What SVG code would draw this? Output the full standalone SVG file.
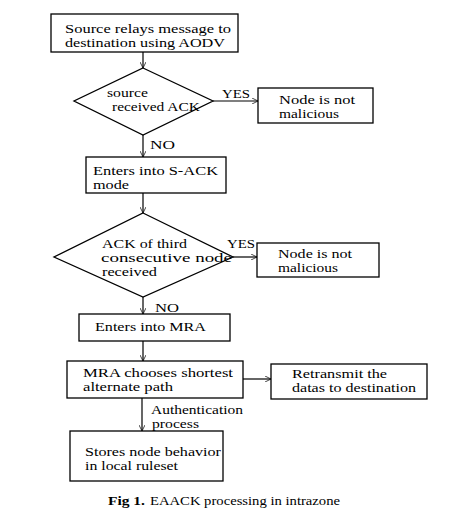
<svg xmlns="http://www.w3.org/2000/svg" width="473" height="523" viewBox="0 0 473 523">
<defs>
<marker id="arr" viewBox="0 0 10 10" refX="10" refY="5" markerWidth="6" markerHeight="6" orient="auto" markerUnits="userSpaceOnUse">
<path d="M0,0 L10,5 L0,10" fill="none" stroke="#000" stroke-width="1.2"/>
</marker>
<style>
.n{fill:#fff;stroke:#000;stroke-width:1.3}
.t{font-family:"Liberation Serif","Times New Roman",serif;font-size:13px;fill:#000}
.c{fill:none;stroke:#000;stroke-width:1.2}
</style>
</defs>
<rect width="473" height="523" fill="#fff"/>
<g id="connectors">
<line class="c" x1="143" y1="52" x2="143" y2="68" marker-end="url(#arr)"/>
<line class="c" x1="213" y1="101" x2="258" y2="101" marker-end="url(#arr)"/>
<line class="c" x1="143" y1="135" x2="143" y2="157" marker-end="url(#arr)"/>
<line class="c" x1="143" y1="193" x2="143" y2="213" marker-end="url(#arr)"/>
<line class="c" x1="233" y1="257" x2="257" y2="257" marker-end="url(#arr)"/>
<line class="c" x1="143" y1="297" x2="143" y2="314" marker-end="url(#arr)"/>
<line class="c" x1="143" y1="341" x2="143" y2="361" marker-end="url(#arr)"/>
<line class="c" x1="243" y1="379" x2="271" y2="379" marker-end="url(#arr)"/>
<line class="c" x1="142" y1="398" x2="142" y2="431" marker-end="url(#arr)"/>
<text class="t" x="222" y="98" textLength="28" lengthAdjust="spacingAndGlyphs">YES</text>
<text class="t" x="150" y="149" textLength="25" lengthAdjust="spacingAndGlyphs">NO</text>
<text class="t" x="227" y="248" textLength="28" lengthAdjust="spacingAndGlyphs">YES</text>
<text class="t" x="155" y="312" textLength="24" lengthAdjust="spacingAndGlyphs">NO</text>
<text class="t" x="151" y="414" textLength="92" lengthAdjust="spacingAndGlyphs">Authentication</text>
<text class="t" x="152" y="428" textLength="47" lengthAdjust="spacingAndGlyphs">process</text>
</g>
<g id="start">
<rect class="n" x="51" y="14" width="187" height="38"/>
<text class="t" x="65" y="33" textLength="166" lengthAdjust="spacingAndGlyphs">Source relays message to</text>
<text class="t" x="65" y="47" textLength="160" lengthAdjust="spacingAndGlyphs">destination using AODV</text>
</g>
<g id="decision1">
<polygon class="n" points="143,68 213,101 143,135 74,101"/>
<text class="t" x="107" y="97" textLength="41" lengthAdjust="spacingAndGlyphs">source</text>
<text class="t" x="112" y="111" textLength="88" lengthAdjust="spacingAndGlyphs">received ACK</text>
</g>
<g id="notmal1">
<rect class="n" x="258" y="88" width="115" height="35"/>
<text class="t" x="279" y="104" textLength="76" lengthAdjust="spacingAndGlyphs">Node is not</text>
<text class="t" x="279" y="118" textLength="60" lengthAdjust="spacingAndGlyphs">malicious</text>
</g>
<g id="sack">
<rect class="n" x="86" y="157" width="140" height="36"/>
<text class="t" x="93" y="175" textLength="125" lengthAdjust="spacingAndGlyphs">Enters into S-ACK</text>
<text class="t" x="93" y="189" textLength="36" lengthAdjust="spacingAndGlyphs">mode</text>
</g>
<g id="decision2">
<polygon class="n" points="143,213 233,257 143,297 54,257"/>
<text class="t" x="102" y="248" textLength="85" lengthAdjust="spacingAndGlyphs">ACK of third</text>
<text class="t" x="101" y="262" textLength="131" lengthAdjust="spacingAndGlyphs">consecutive node</text>
<text class="t" x="102" y="276" textLength="55" lengthAdjust="spacingAndGlyphs">received</text>
</g>
<g id="notmal2">
<rect class="n" x="257" y="243" width="122" height="34"/>
<text class="t" x="278" y="258" textLength="74" lengthAdjust="spacingAndGlyphs">Node is not</text>
<text class="t" x="278" y="272" textLength="60" lengthAdjust="spacingAndGlyphs">malicious</text>
</g>
<g id="mra">
<rect class="n" x="79" y="314" width="151" height="27"/>
<text class="t" x="95" y="331" textLength="111" lengthAdjust="spacingAndGlyphs">Enters into MRA</text>
</g>
<g id="shortest">
<rect class="n" x="67" y="361" width="176" height="37"/>
<text class="t" x="83" y="377" textLength="150" lengthAdjust="spacingAndGlyphs">MRA chooses shortest</text>
<text class="t" x="83" y="391" textLength="90" lengthAdjust="spacingAndGlyphs">alternate path</text>
</g>
<g id="retransmit">
<rect class="n" x="271" y="364" width="156" height="35"/>
<text class="t" x="292" y="378" textLength="95" lengthAdjust="spacingAndGlyphs">Retransmit the</text>
<text class="t" x="292" y="392" textLength="124" lengthAdjust="spacingAndGlyphs">datas to destination</text>
</g>
<g id="stores">
<rect class="n" x="70" y="431" width="153" height="50"/>
<text class="t" x="85" y="456" textLength="136" lengthAdjust="spacingAndGlyphs">Stores node behavior</text>
<text class="t" x="85" y="470" textLength="93" lengthAdjust="spacingAndGlyphs">in local ruleset</text>
</g>
<g id="caption">
<text class="t" x="108" y="505" font-size="14" font-weight="bold" textLength="37" lengthAdjust="spacingAndGlyphs">Fig 1.</text>
<text class="t" x="150" y="505" font-size="14" textLength="190" lengthAdjust="spacingAndGlyphs">EAACK processing in intrazone</text>
</g>
</svg>
